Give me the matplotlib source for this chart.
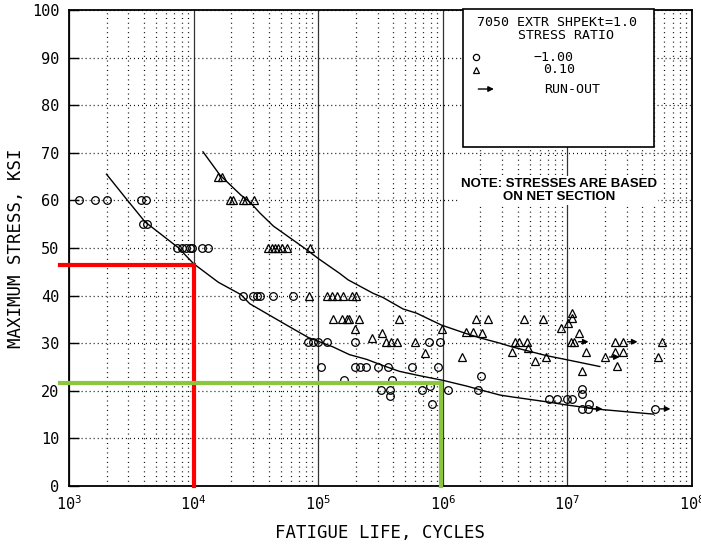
import numpy as np
import matplotlib
matplotlib.use("Agg")
import matplotlib.pyplot as plt
from matplotlib.ticker import LogLocator, FixedLocator, FuncFormatter, NullFormatter
from matplotlib.transforms import offset_copy
from matplotlib.patches import Rectangle

plt.rcParams['lines.scale_dashes'] = False
plt.rcParams['mathtext.fontset'] = 'custom'
plt.rcParams['mathtext.rm'] = 'DejaVu Sans Mono'
plt.rcParams['mathtext.it'] = 'DejaVu Sans Mono'

MONO = 'DejaVu Sans Mono'

# ---------------- data ----------------
# R = -1.00 (circles)
circ_N = [1.20e3, 1.62e3, 2.02e3, 3.78e3, 4.14e3,
          3.92e3, 4.22e3,
          7.35e3, 8.05e3, 8.67e3, 9.33e3, 9.68e3, 1.17e4, 1.30e4,
          2.48e4, 2.99e4, 3.22e4, 3.40e4, 4.32e4, 6.25e4,
          8.26e4, 9.06e4, 9.93e4, 1.17e5, 1.97e5, 7.71e5, 9.44e5,
          1.05e5, 1.97e5, 2.16e5, 2.41e5, 3.01e5, 3.61e5, 5.64e5, 9.10e5,
          1.60e5, 3.89e5,
          3.18e5, 3.75e5, 6.78e5, 1.11e6, 1.91e6,
          7.85e5, 3.75e5, 8.15e5, 2.01e6,
          7.06e6, 8.18e6, 1.00e7, 1.08e7,
          1.32e7, 1.32e7, 1.48e7, 1.32e7]
circ_S = [60, 60, 60, 60, 60,
          55, 55,
          50, 50, 50, 50, 50, 50, 50,
          40, 40, 40, 40, 40, 40,
          30.3, 30.3, 30.3, 30.3, 30.3, 30.3, 30.3,
          25, 25, 25, 25, 25, 25, 25, 25,
          22.3, 22.3,
          20.2, 20.2, 20.2, 20.2, 20.2,
          21.0, 19.0, 17.2, 23.1,
          18.3, 18.3, 18.3, 18.3,
          20.4, 19.3, 17.2, 16.2]
# R = -1.00 run-outs
circ_ro_N = [1.45e7, 5.09e7]
circ_ro_S = [16.2, 16.2]

# R = 0.10 (triangles)
tri_N = [1.57e4, 1.69e4,
         1.95e4, 2.07e4, 2.48e4, 2.62e4, 3.05e4,
         3.94e4, 4.25e4, 4.49e4, 4.74e4, 5.11e4, 5.60e4, 8.57e4,
         8.41e4, 1.17e5, 1.29e5, 1.41e5, 1.57e5, 1.86e5, 2.00e5,
         1.31e5, 1.55e5, 1.69e5, 1.76e5, 2.12e5, 4.43e5, 1.84e6, 2.29e6, 4.46e6, 6.32e6,
         1.97e5, 9.79e5, 3.24e5, 2.05e6, 2.69e5,
         3.48e5, 3.82e5, 4.27e5, 5.96e5, 3.78e6, 4.06e6, 4.71e6,
         7.16e5, 1.42e6, 6.68e6, 1.53e6, 1.74e6,
         8.81e6, 1.02e7, 1.08e7, 1.08e7,
         4.80e6, 3.57e6, 5.46e6, 1.25e7, 1.40e7, 1.32e7,
         1.06e7, 2.39e7, 2.39e7, 2.77e7, 2.48e7, 5.79e7, 5.38e7]
tri_S = [65, 65,
         60, 60, 60, 60, 60,
         50, 50, 50, 50, 50, 50, 50,
         40, 40, 40, 40, 40, 40, 40,
         35, 35, 35, 35, 35, 35, 35, 35, 35, 35,
         33, 33, 32.1, 32.1, 31.1,
         30.3, 30.3, 30.3, 30.3, 30.3, 30.3, 30.3,
         27.9, 27.1, 27.1, 32.4, 32.4,
         33.2, 34.2, 36.3, 35.2,
         29.0, 28.2, 26.2, 32.2, 28.2, 24.2,
         30.3, 30.3, 28.2, 28.2, 25.2, 30.3, 27.1]
# R = 0.10 run-outs
tri_ro_N = [1.12e7, 2.77e7, 1.99e7]
tri_ro_S = [30.3, 30.3, 27.1]

# fitted curves
fit1_N = [2.0e3, 2.95e3, 4.07e3, 7.59e3, 1.0e4, 1.58e4, 2.40e4, 2.82e4, 5.25e4,
          8.32e4, 1.32e5, 1.78e5, 2.45e5, 3.31e5, 4.47e5, 6.17e5, 1.0e6, 1.55e6,
          2.0e6, 2.88e6, 3.63e6, 6.76e6, 1.0e7, 1.82e7, 4.90e7]
fit1_S = [65.5, 60, 55.5, 50, 46.7, 42.8, 40.2, 38.3, 34.2,
          31.2, 29.2, 27.6, 26.6, 25.3, 24.1, 23.3, 22.2, 21.0,
          20.2, 19.1, 18.7, 17.7, 17.0, 16.1, 15.1]
fit2_N = [1.19e4, 1.63e4, 2.40e4, 2.82e4, 3.39e4, 4.37e4, 8.13e4, 1.0e5, 1.48e5,
          1.74e5, 2.75e5, 3.31e5, 4.79e5, 6.17e5, 9.77e5, 1.55e6, 2.0e6, 2.88e6,
          3.63e6, 6.76e6, 1.0e7, 1.82e7]
fit2_S = [70.2, 65.3, 61.1, 59.7, 57.4, 54.6, 49.6, 47.8, 44.7,
          43.3, 40.5, 39.6, 37.2, 36.3, 33.8, 32.0, 31.1, 30.0,
          29.2, 27.4, 26.5, 25.1]

# highlighted reading lines
red_N, red_S = 1.0e4, 46.5
green_N, green_S = 9.6e5, 21.7
line_start_N = 850

y_ticks = [0, 10, 20, 30, 40, 50, 60, 70, 80, 90, 100]
x_decades = [1e3, 1e4, 1e5, 1e6, 1e7, 1e8]

# ---------------- figure ----------------
fig = plt.figure(figsize=(7.01, 5.44), dpi=100)
ax = fig.add_axes([69/701, 1-486/544, 623/701, 476/544])
ax.set_xscale('log')
ax.set_xlim(1e3, 1e8)
ax.set_ylim(0, 100)

dot = (0, (0.7, 2.7))
# grid
ax.xaxis.set_major_locator(FixedLocator(x_decades))
ax.xaxis.set_minor_locator(LogLocator(base=10, subs=np.arange(2, 10)))
ax.xaxis.set_minor_formatter(NullFormatter())
ax.yaxis.set_major_locator(FixedLocator(y_ticks))
ax.grid(which='minor', axis='x', color='black', linestyle=dot, linewidth=0.9)
ax.grid(which='major', axis='x', color='#333333', linestyle='-', linewidth=0.9)
ax.grid(which='major', axis='y', color='black', linestyle=(0, (0.7, 2.2)), linewidth=0.9)
ax.set_axisbelow(True)

ax.tick_params(axis='x', which='both', length=0, pad=6)
ax.tick_params(axis='y', which='major', direction='in', length=7, width=1.0, pad=7)
ax.xaxis.set_major_formatter(FuncFormatter(
    lambda v, p: r'$\mathregular{10^{%d}}$' % int(round(np.log10(v)))))
for lab in ax.get_yticklabels() + ax.get_xticklabels():
    lab.set_fontfamily(MONO)
    lab.set_fontsize(11)
for sp in ax.spines.values():
    sp.set_linewidth(1.3)

# fitted curves
ax.plot(fit1_N, fit1_S, color='black', lw=1.0, zorder=3)
ax.plot(fit2_N, fit2_S, color='black', lw=1.0, zorder=3)

# data points
mk = dict(linestyle='none', mfc='none', mec='black', mew=0.9, ms=5.5, zorder=4)
ax.plot(circ_N, circ_S, marker='o', **mk)
ax.plot(circ_ro_N, circ_ro_S, marker='o', **mk)
ax.plot(tri_N, tri_S, marker='^', **mk)
ax.plot(tri_ro_N, tri_ro_S, marker='^', **mk)

head_tr = offset_copy(ax.transData, fig=fig, x=15, y=0, units='dots')
arr = dict(arrowstyle='-|>', color='black', lw=1.0, shrinkA=3.5, shrinkB=0,
           mutation_scale=8)
for n, s in list(zip(circ_ro_N, circ_ro_S)) + list(zip(tri_ro_N, tri_ro_S)):
    ax.annotate('', xy=(n, s), xycoords=head_tr, xytext=(n, s),
                textcoords='data', arrowprops=arr, zorder=5)

# legend box
ax.add_patch(Rectangle((0.632, 0.712), 0.307, 0.29, transform=ax.transAxes,
                       facecolor='white', edgecolor='black', lw=1.2, zorder=6,
                       clip_on=False))
tk = dict(transform=ax.transAxes, fontfamily=MONO, fontsize=9.5, zorder=7,
          ha='center', va='center')
ax.text(0.783, 0.974, '7050 EXTR SHPEKt=1.0', **tk)
ax.text(0.798, 0.946, 'STRESS RATIO', **tk)
ax.text(0.778, 0.901, '\u22121.00', **tk)
ax.text(0.787, 0.874, '0.10', **tk)
ax.text(0.807, 0.834, 'RUN-OUT', **tk)
ax.plot([0.653], [0.901], marker='o', transform=ax.transAxes, linestyle='none',
        mfc='none', mec='black', mew=0.9, ms=4.5, zorder=7)
ax.plot([0.653], [0.874], marker='^', transform=ax.transAxes, linestyle='none',
        mfc='none', mec='black', mew=0.9, ms=4.5, zorder=7)
ax.annotate('', xy=(0.682, 0.834), xycoords='axes fraction',
            xytext=(0.657, 0.834), textcoords='axes fraction',
            arrowprops=dict(arrowstyle='-|>', color='black', lw=1.0,
                            shrinkA=0, shrinkB=0, mutation_scale=8), zorder=7)

# note
ax.text(0.786, 0.621, 'NOTE: STRESSES ARE BASED\nON NET SECTION',
        transform=ax.transAxes, ha='center', va='center', fontsize=9.5,
        fontweight='bold', fontfamily='Liberation Sans', linespacing=1.15,
        zorder=7, bbox=dict(facecolor='white', edgecolor='none', pad=1))

# red and green reading lines
ax.plot([line_start_N, red_N, red_N], [red_S, red_S, 0], color='#ff0000',
        lw=3.0, clip_on=False, zorder=8, solid_joinstyle='miter')
ax.plot([line_start_N, green_N, green_N], [green_S, green_S, 0], color='#8cc63f',
        lw=3.0, clip_on=False, zorder=8, solid_joinstyle='miter')

# axis titles
fig.text(16/701, 1-248/544, 'MAXIMUM STRESS, KSI', rotation=90, ha='center',
         va='center', fontfamily=MONO, fontsize=12.5)
fig.text(380/701, 1-533/544, 'FATIGUE LIFE, CYCLES', ha='center', va='center',
         fontfamily=MONO, fontsize=12.5)

fig.savefig('out.png', dpi=100)
